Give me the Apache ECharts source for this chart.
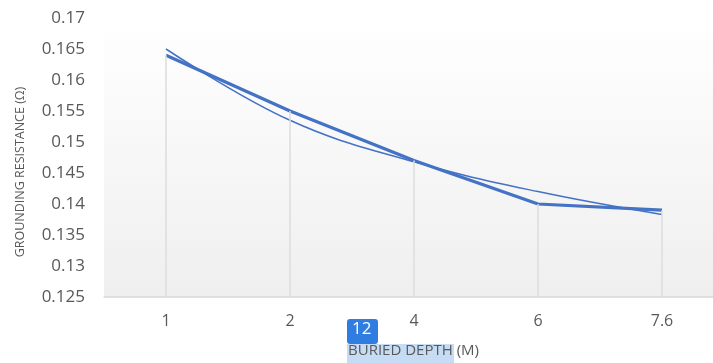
<!DOCTYPE html>
<html><head><meta charset="utf-8">
<script src="https://cdn.jsdelivr.net/npm/echarts@6/dist/echarts.min.js"></script>
<style>html,body{margin:0;padding:0;background:#fff}#c{width:713px;height:363px}</style>
</head><body><div id="c"></div>
<script>
const categories = ['1', '2', '4', '6', '7.6'];
const resistance = [0.164, 0.155, 0.147, 0.140, 0.139];
const trend = [0.1650, 0.1535, 0.1468, 0.1420, 0.1383];
const yTicks = { min: 0.125, max: 0.17, interval: 0.005 };

const chart = echarts.init(document.getElementById('c'), null, { renderer: 'canvas' });
const font = '"Open Sans", "Liberation Sans", sans-serif';
chart.setOption({
  animation: false,
  backgroundColor: '#fff',
  grid: {
    left: 104, width: 620, top: 18, bottom: 66, show: true, borderWidth: 0,
    outerBoundsMode: 'none', containLabel: false,
    backgroundColor: new echarts.graphic.LinearGradient(0, 0, 0, 1, [
      { offset: 0, color: '#ffffff' }, { offset: 1, color: '#efefef' }
    ])
  },
  xAxis: {
    type: 'category', data: categories, boundaryGap: true,
    axisLine: { lineStyle: { color: '#d9d9d9', width: 1.5 } },
    axisTick: { show: false },
    axisLabel: { color: '#595959', fontSize: 16, fontFamily: font, margin: 16 },
    splitLine: { show: false }
  },
  yAxis: {
    type: 'value', min: yTicks.min, max: yTicks.max, interval: yTicks.interval,
    axisLine: { show: false }, axisTick: { show: false }, splitLine: { show: false },
    axisLabel: { color: '#595959', fontSize: 17, fontFamily: font, margin: 19,
      formatter: v => String(parseFloat(v.toFixed(3))) }
  },
  series: [
    {
      type: 'line', data: resistance, symbol: 'none', z: 3,
      lineStyle: { color: '#4472c4', width: 3.2 },
      markLine: {
        silent: true, symbol: 'none', label: { show: false },
        lineStyle: { color: '#dcdcdc', type: 'solid', width: 1.5 },
        data: resistance.map((v, i) => [
          { coord: [categories[i], v] }, { coord: [categories[i], yTicks.min] }
        ])
      }
    },
    {
      type: 'line', data: trend, symbol: 'none', smooth: 0.4, z: 4,
      lineStyle: { color: '#4472c4', width: 1.5 }
    }
  ],
  graphic: [
    { type: 'text', x: 20, y: 172, rotation: Math.PI / 2, z: 2,
      style: { text: 'GROUNDING RESISTANCE (Ω)', fill: '#595959', font: '12.5px ' + font,
        align: 'center', verticalAlign: 'middle' } },
    { type: 'rect', left: 347, top: 344, shape: { width: 107, height: 19 }, style: { fill: '#c6dcf4' }, z: 1 },
    { type: 'text', left: 348, top: 343, z: 2,
      style: { text: 'BURIED DEPTH (M)', fill: '#595959', font: '15px ' + font } },
    { type: 'rect', left: 347, top: 319, shape: { width: 31, height: 25, r: 3 }, style: { fill: '#2f7de1' }, z: 3 },
    { type: 'text', left: 352, top: 321, z: 4,
      style: { text: '12', fill: '#ffffff', font: '17px ' + font } }
  ]
});
</script></body></html>
